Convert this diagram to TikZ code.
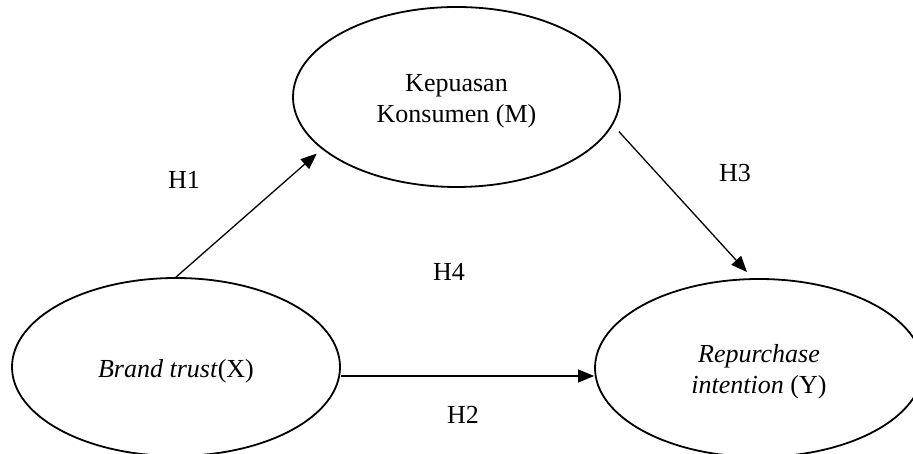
\documentclass[tikz,border=0pt]{standalone}
\usepackage{fontspec}
\setmainfont{Liberation Serif}
\usetikzlibrary{arrows.meta,shapes.geometric,calc}
\begin{document}
\begin{tikzpicture}[x=1pt,y=1pt,
  oval/.style={draw,ellipse,line width=1.8pt,inner sep=0pt},
  txt/.style={font=\fontsize{26}{31}\selectfont,align=center,inner sep=0pt},
  arr/.style={line width=1.3pt,-{Triangle[length=16pt,width=13pt]}},
  hlab/.style={font=\fontsize{26}{31}\selectfont,inner sep=0pt}]
\useasboundingbox (0,0) rectangle (913,454);
\node[oval,minimum width=327pt,minimum height=180pt] (m) at (456.5,357) {};
\node[oval,minimum width=328pt,minimum height=178pt] (x) at (176,87) {};
\node[oval,minimum width=328pt,minimum height=178pt] (y) at (759,86) {};
\node[txt] (mt) at ([yshift=-4pt]m.center) {Kepuasan\\Konsumen (M)};
\node[txt] (xt) at ([yshift=-4pt]x.center) {\textit{Brand trust}(X)};
\node[txt] (yt) at ([yshift=-4pt]y.center) {\textit{Repurchase}\\\textit{intention} (Y)};
\draw[arr] (x.north) -- ([shift={(-7pt,-3pt)}]m.202);
\draw[arr] ([shift={(9pt,-2pt)}]m.-12.6) -- ([shift={(-12pt,6pt)}]y.north);
\draw[arr] ([yshift=-9pt]x.east) -- ([yshift=-9pt]x.east -| y.west);
\node[hlab] (h1) at (184,274) {H1};
\node[hlab] (h3) at (735,281) {H3};
\node[hlab] (h4) at (449,182) {H4};
\node[hlab] (h2) at (463,39) {H2};
\end{tikzpicture}
\end{document}
